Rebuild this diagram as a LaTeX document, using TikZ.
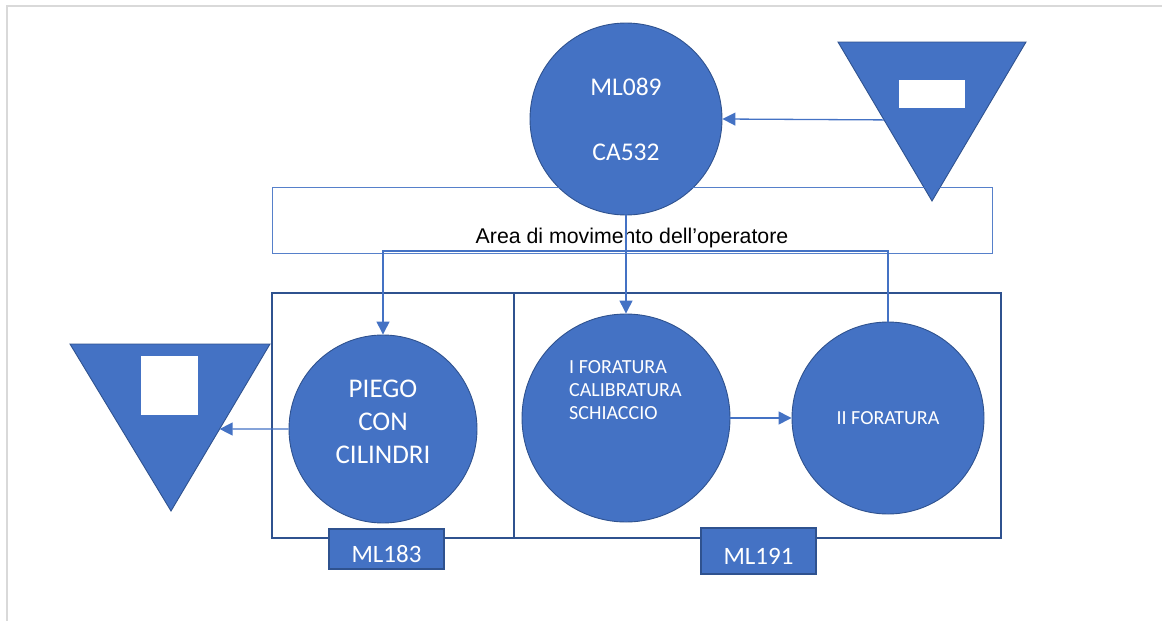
\documentclass[tikz,border=0pt]{standalone}
\usepackage{fontspec}
\setmainfont{Carlito}
\newfontfamily\areafont{Liberation Sans}
\usetikzlibrary{arrows.meta,positioning,calc}
\definecolor{Fill}{HTML}{4472C4}
\definecolor{Edge}{HTML}{2F528F}
\definecolor{Wire}{HTML}{4472C4}
\definecolor{Frame}{HTML}{D9D9D9}

\begin{document}
\begin{tikzpicture}[x=1pt,y=-1pt,
    station/.style={circle,draw=Edge,fill=Fill,line width=0.9pt,inner sep=0pt},
    caption/.style={text=white,align=center,inner sep=0pt},
    tag/.style={draw=Edge,fill=Fill,line width=1.2pt,inner sep=0pt,minimum width=115pt,text=white,font=\fontsize{25}{29}\selectfont,text height=26pt,text depth=0pt},
    mbox/.style={draw=Edge,line width=1.2pt,inner sep=0pt},
    zone/.style={draw=Wire,draw opacity=0.9,line width=1.8pt,inner sep=0pt},
    store/.style={draw=Edge,fill=Fill,line width=0.9pt},
    conn/.style={draw=Wire,line width=1.3pt},
    a/.style={conn,-{Triangle[length=13pt,width=13pt]}}]
    \useasboundingbox (0,0) rectangle (1162,621);
    \draw[Frame,line width=1.5pt] (7,621) -- (7,6) -- (1162,6);
    % machine areas
    \node[mbox,minimum width=242pt,minimum height=245pt] (m183) at (393,415.5) {};
    \node[mbox,minimum width=487pt,minimum height=245pt] (m191) at (757.5,415.5) {};
    % stations
    \node[station,minimum size=192pt,caption,font=\fontsize{25.5}{29}\selectfont] (ml089) at (626,119) {ML089\\[36pt]CA532};
    \node[station,minimum size=188pt] (piego) at (383,429) {};
    \node[caption,font=\fontsize{27}{33}\selectfont] (piegotxt) at (383,422) {PIEGO\\CON\\CILINDRI};
    \node[station,minimum size=208pt] (ifor) at (626,418) {};
    \node[caption,align=left,anchor=west,font=\fontsize{20}{23}\selectfont] (ifortxt) at (569,390) {I FORATURA\\CALIBRATURA\\SCHIACCIO};
    \node[station,minimum size=192pt,caption,font=\fontsize{20}{23}\selectfont] (iifor) at (888,418) {II FORATURA};
    % storage triangles
    \coordinate (rt1) at (838,42); \coordinate (rt2) at (1026,42); \coordinate (rtA) at (932,201);
    \draw[store] (rt1) -- (rt2) -- (rtA) -- cycle;
    \fill[white] (899,80) rectangle (965,108);
    \coordinate (lt1) at (70,344); \coordinate (lt2) at (270,344); \coordinate (ltA) at (171,511);
    \draw[store] (lt1) -- (lt2) -- (ltA) -- cycle;
    \fill[white] (141,356) rectangle (198,415);
    \coordinate (rtedge) at ($(rt1)!0.49!(rtA)$);
    \coordinate (ltedge) at ($(lt2)!0.509!(ltA)$);
    \coordinate (turn) at (383,251);
    % operator area
    \node[anchor=base,inner sep=0pt,font=\areafont\fontsize{21.3}{25}\selectfont] (areatxt) at (632,243) {Area di movimento dell’operatore};
    % flows
    \draw[a] (rtedge) -- (ml089.east);
    \draw[a] (ml089.south) -- (ifor.north);
    \draw[a] (ifor.east) -- (iifor.west);
    \draw[a] (iifor.north) |- (turn) -- (piego.north);
    \draw[a] (piego.west) -- (ltedge);
    \node[zone,minimum width=720pt,minimum height=66pt] (area) at (632.5,220.5) {};
    % machine tags
    \node[tag,minimum height=40pt] (t183) at (386.5,549) {ML183};
    \node[tag,minimum height=46pt] (t191) at (758.5,551) {ML191};
\end{tikzpicture}
\end{document}
